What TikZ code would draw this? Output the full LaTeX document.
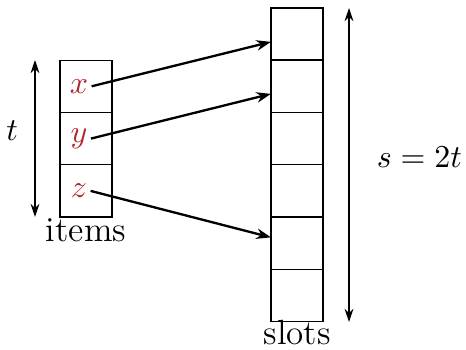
\documentclass[tikz,border=0pt]{standalone}
\usetikzlibrary{arrows.meta,positioning}
\definecolor{itemred}{RGB}{178,40,48}
\begin{document}
\begin{tikzpicture}[
    x=0.343pt, y=-0.343pt,
    every node/.style={font=\fontsize{11.4pt}{13pt}\selectfont},
    caption/.style={font=\fontsize{12pt}{14pt}\selectfont, inner sep=0pt},
    cell/.style={draw, line width=0.45pt, minimum size=17.9pt, inner sep=0pt, outer sep=0pt},
    key/.style={text=itemred, inner sep=1pt},
    arrow/.style={-{Stealth[length=5pt,width=3.6pt]}, line width=0.8pt},
    span/.style={{Stealth[length=4.5pt,width=3pt]}-{Stealth[length=4.5pt,width=3pt]}, line width=0.45pt}
]
    \useasboundingbox (0,0) rectangle (466,350);

    % Items column (three cells)
    \foreach \k/\name in {1/x,2/y,3/z} {
        \node[cell] (item\k) at (86, 34+52.3*\k) {};
        \node[key, xshift=-2.4pt] (\name) at (item\k) {$\name$};
    }
    \node[caption, below=0.5pt of item3] (items) {items};

    % Slots column (six cells)
    \foreach \k in {1,...,6} {
        \node[cell] (slot\k) at (297, -18.3+52.3*\k) {};
    }
    \node[caption, below=-0.8pt of slot6] (slots) {slots};

    % Hashing arrows
    \draw[arrow] (x.east) -- ([yshift=-2.7pt]slot1.west);
    \draw[arrow] (y.east) -- ([yshift=-2.6pt]slot2.west);
    \draw[arrow] (z.east) -- ([yshift=2pt]slot5.west);

    % Size markers
    \coordinate (ttop) at (35, 60);
    \coordinate (tbot) at (35, 217);
    \draw[span] (ttop) -- (tbot) node[midway, left=2.3pt, yshift=2.8pt] (tlabel) {$t$};
    \coordinate (stop) at (349, 8);
    \coordinate (sbot) at (349, 322);
    \draw[span] (stop) -- (sbot) node[midway, right=6pt, yshift=2.8pt] (slabel) {$s = 2t$};
\end{tikzpicture}
\end{document}
